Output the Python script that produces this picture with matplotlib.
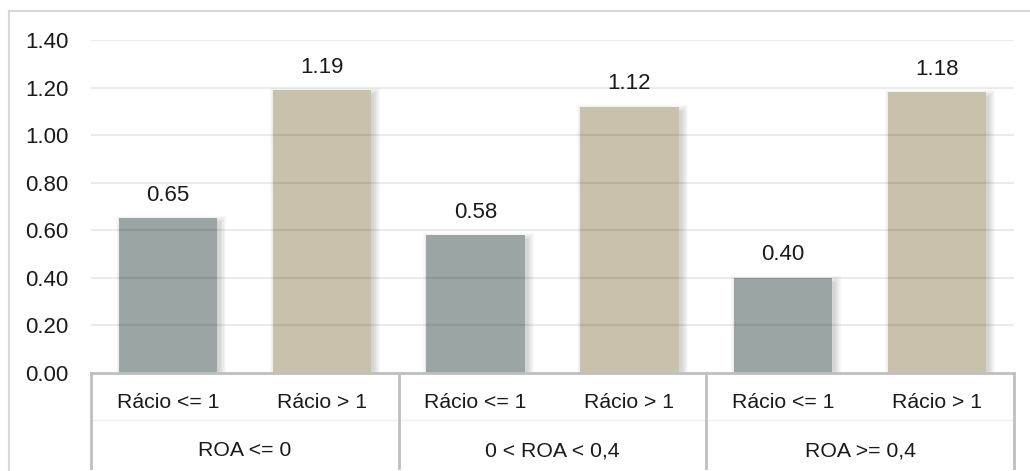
import matplotlib.pyplot as plt
import matplotlib.transforms as mtransforms
from matplotlib.patches import Rectangle
from matplotlib.lines import Line2D

groups = ['ROA <= 0', '0 < ROA < 0,4', 'ROA >= 0,4']
sub_labels = ['Rácio <= 1', 'Rácio > 1']
values = [0.65, 1.19, 0.58, 1.12, 0.40, 1.18]
colors = ['#9ba5a5', '#c8c1ab']

plt.rcParams['font.family'] = ['Liberation Sans Narrow', 'Liberation Sans', 'DejaVu Sans']
FS = 15.3
TXT = '#1a1a1a'

W, H = 1030, 471
fig = plt.figure(figsize=(W / 100, H / 100), dpi=100)

# outer chart border (left and top edges visible)
fig.add_artist(Line2D([9 / W, 9 / W], [0, 1 - 11 / H], color='#d9d9d9', lw=1.5))
fig.add_artist(Line2D([9 / W, 1], [1 - 11 / H, 1 - 11 / H], color='#d9d9d9', lw=1.5))

left, right, top, bottom = 91, 1014, 40, 373
ax = fig.add_axes([left / W, 1 - bottom / H, (right - left) / W, (bottom - top) / H])
ax.set_xlim(-0.5, len(values) - 0.5)
ax.set_ylim(0, 1.4)
for s in ax.spines.values():
    s.set_visible(False)

yt = [i * 0.2 for i in range(8)]
ax.set_yticks(yt)
ax.set_yticklabels([f'{v:.2f}' for v in yt], fontsize=FS + 0.7, color=TXT)
ax.tick_params(axis='y', length=0, pad=16)
ax.set_xticks([])

px_x = (len(values)) / (right - left)
px_y = 1.4 / (bottom - top)
bw = 0.64
xs = list(range(len(values)))

for i, v in enumerate(values):
    x0 = xs[i] - bw / 2
    # soft drop shadow
    for k in range(7):
        ax.add_patch(Rectangle((x0 + 3 * px_x - k * px_x, 0),
                               bw + 2 * k * px_x, v - 4 * px_y + k * px_y,
                               facecolor='k', alpha=0.022, lw=0, zorder=1))
    ax.bar(xs[i], v, width=bw, color=colors[i % 2], zorder=2)
    ax.annotate(f'{v:.2f}', (xs[i], v), xytext=(0, 16.5), textcoords='offset points',
                ha='center', va='center', fontsize=FS + 0.7, color=TXT)

for y in yt[1:]:
    ax.axhline(y, color='k', alpha=0.08, lw=1.5, zorder=3)

# multi-level category axis
tr = mtransforms.blended_transform_factory(ax.transData, ax.transAxes)
hgt = bottom - top
ax.plot([-0.5, len(values) - 0.5], [0, 0], transform=tr, color='#bfbfbf', lw=2,
        clip_on=False, zorder=4)
ax.plot([-0.5, len(values) - 0.5], [-47 / hgt, -47 / hgt], transform=tr,
        color='#f0f0f0', lw=1, clip_on=False)
for g in range(len(groups) + 1):
    xb = 2 * g - 0.5
    ax.plot([xb, xb], [0, -95 / hgt], transform=tr, color='#bfbfbf', lw=2,
            clip_on=False, zorder=4)
for i in xs:
    ax.text(i, -30 / hgt, sub_labels[i % 2], transform=tr, ha='center', va='center',
            fontsize=FS, color=TXT)
for g, name in enumerate(groups):
    ax.text(2 * g + 0.5, -78 / hgt, name, transform=tr, ha='center', va='center',
            fontsize=FS, color=TXT)

fig.savefig('out.png', dpi=100)
